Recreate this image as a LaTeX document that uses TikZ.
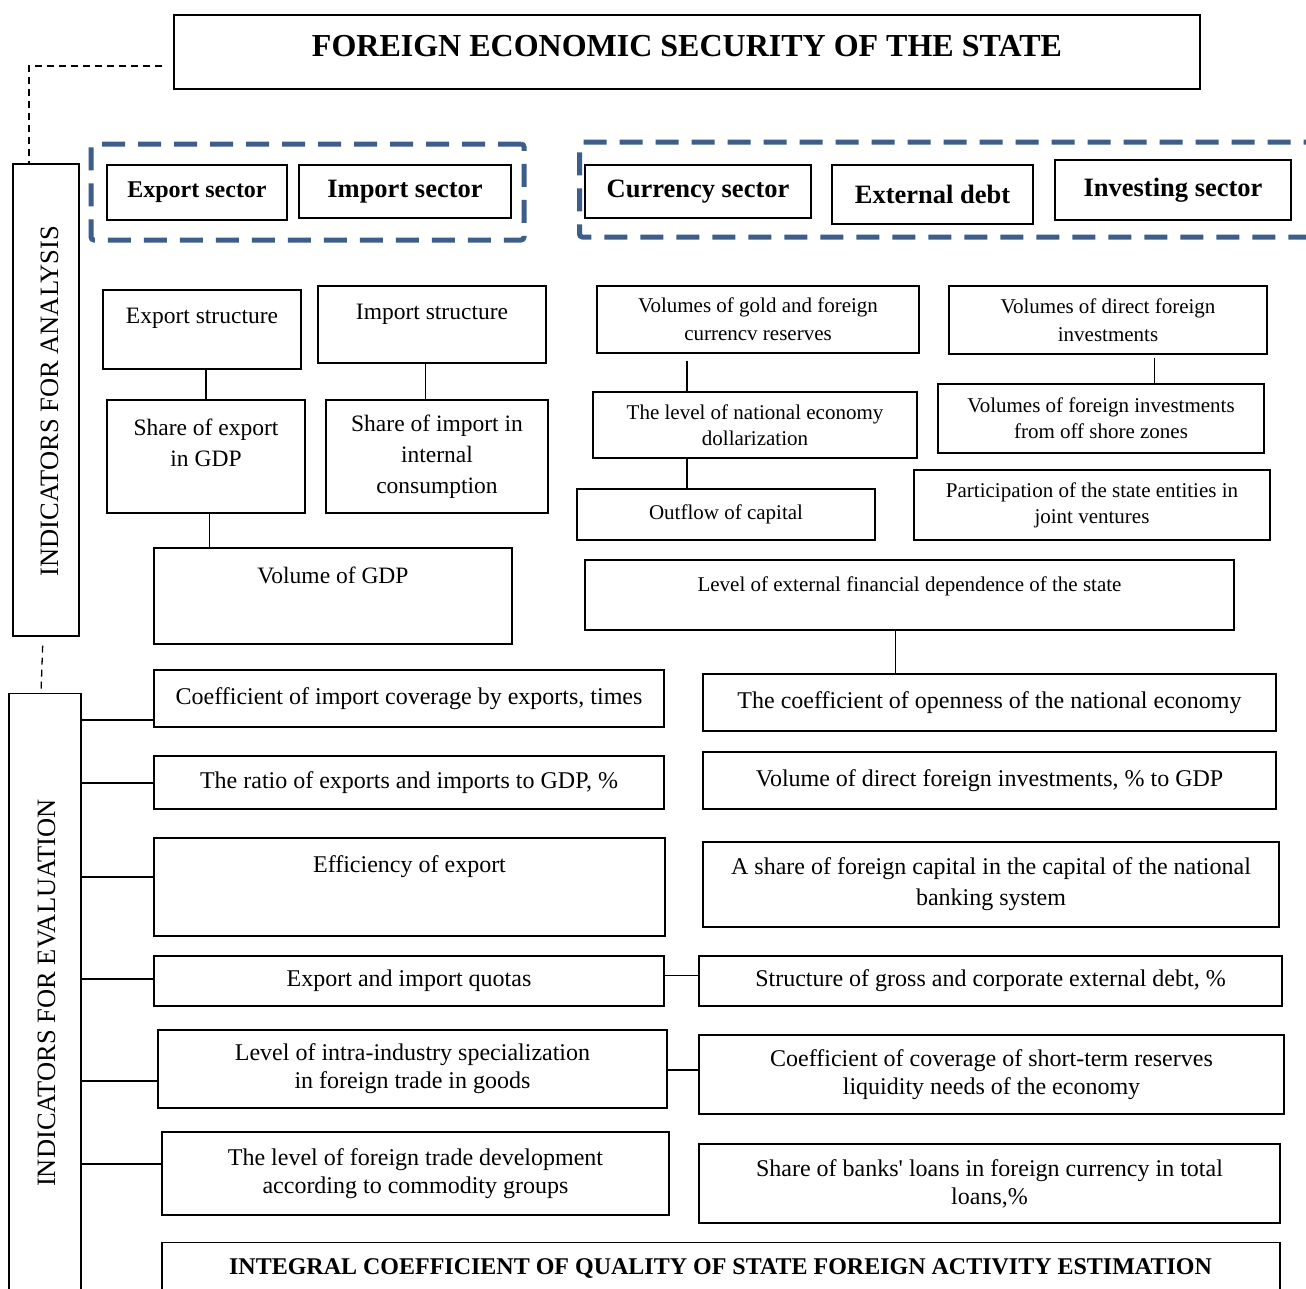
\documentclass[tikz,border=0pt]{standalone}
\usepackage{fontspec}
\setmainfont{Liberation Serif}
\definecolor{grpblue}{HTML}{3D5E8B}
\begin{document}
\begin{tikzpicture}[x=1pt,y=-1pt,
  box/.style={draw, line width=1.1pt, inner sep=0pt, align=center},
  t/.style={inner sep=0pt, align=center},
  blackdash/.style={line width=1.3pt, dash pattern=on 7pt off 5pt},
  grp/.style={draw=grpblue, line width=5pt, dash pattern=on 23pt off 13pt, rounded corners=3pt, inner sep=0pt},
  conn/.style={line width=1.5pt},
  sb/.style={font=\bfseries\fontsize{26.5}{32}\selectfont},
  sbs/.style={font=\bfseries\fontsize{24}{29}\selectfont},
  fa/.style={font=\fontsize{23.5}{31}\selectfont},
  fb/.style={font=\fontsize{21}{26}\selectfont},
  fc/.style={font=\fontsize{24}{28}\selectfont},
  fr/.style={font=\fontsize{26.5}{32}\selectfont}]
\clip (0,0) rectangle (1306,1288);
\fill[white] (0,0) rectangle (1306,1288);

% title
\node[box, minimum width=1026pt, minimum height=74pt] (title) at (687,52) {};
\node[t, font=\bfseries\fontsize{32}{38}\selectfont] (title-t) at (687,46) {FOREIGN ECONOMIC SECURITY OF THE STATE};

% rotated side boxes
\node[box, minimum width=66pt, minimum height=472pt] (ana) at (46,400) {};
\node[t, fr, rotate=90] (ana-t) at (49.5,401) {INDICATORS FOR ANALYSIS};
\node[box, minimum width=72pt, minimum height=620pt, anchor=north] (ev) at (45,693) {};
\node[t, fr, rotate=90] (ev-t) at (46.5,993) {INDICATORS FOR EVALUATION};

% sector groups
\node[grp, minimum width=433pt, minimum height=96pt] (grp1) at (307.5,192) {};
\node[grp, minimum width=750pt, minimum height=95pt, anchor=west] (grp2) at (577,189.5) {};

\node[box, sbs, minimum width=180pt, minimum height=55pt] (exps) at (197,192.5) {Export sector};
\node[box, sb, minimum width=212pt, minimum height=53pt] (imps) at (405,191.5) {Import sector};
\node[box, sb, minimum width=226pt, minimum height=53pt] (curs) at (698,191.5) {Currency sector};
\node[box, sb, minimum width=201pt, minimum height=59pt] (extd) at (932.5,194.5) {External debt};
\node[box, sb, minimum width=236pt, minimum height=60pt] (invs) at (1173,190) {Investing sector};

% analysis - left
\node[box, minimum width=198pt, minimum height=79pt] (es) at (202,329.5) {};
\node[t, fa] (es-t) at (202,318) {Export structure};
\node[box, minimum width=228pt, minimum height=77pt] (is) at (432,324.5) {};
\node[t, fa] (is-t) at (432,314) {Import structure};
\node[box, minimum width=198pt, minimum height=113pt] (se) at (206,456.5) {};
\node[t, fa] (se-t) at (206,443) {Share of export\\in GDP};
\node[box, fa, minimum width=222pt, minimum height=113pt] (si) at (437,456.5) {Share of import in\\internal\\consumption};
\node[box, minimum width=358pt, minimum height=96pt] (gdp) at (333,596) {};
\node[t, fa] (gdp-t) at (333,575) {Volume of GDP};

% analysis - right
\node[box, fb, font=\fontsize{21}{28}\selectfont, minimum width=322pt, minimum height=67pt] (gold) at (758,319.5) {Volumes of gold and foreign\\currencv reserves};
\node[box, fb, minimum width=324pt, minimum height=66pt] (dol) at (755,425) {The level of national economy\\dollarization};
\node[box, fb, minimum width=298pt, minimum height=51pt] (out) at (726,514.5) {Outflow of capital};
\node[box, fb, font=\fontsize{21}{28}\selectfont, minimum width=318pt, minimum height=68pt] (dfi) at (1108,320) {Volumes of direct foreign\\investments};
\node[box, fb, minimum width=326pt, minimum height=69pt] (off) at (1101,418.5) {Volumes of foreign investments\\from off shore zones};
\node[box, fb, minimum width=356pt, minimum height=70pt] (part) at (1092,505) {Participation of the state entities in\\joint ventures};
\node[box, minimum width=649pt, minimum height=70pt] (lefd) at (909.5,595) {};
\node[t, fb] (lefd-t) at (909.5,586) {Level of external financial dependence of the state};

% evaluation - left
\node[box, fc, minimum width=510pt, minimum height=57pt] (cic) at (409,698.5) {Coefficient of import coverage by exports, times};
\node[box, fc, minimum width=510pt, minimum height=53pt] (rat) at (409,782.5) {The ratio of exports and imports to GDP, \%};
\node[box, minimum width=511pt, minimum height=98pt] (eff) at (409.5,887) {};
\node[t, fc] (eff-t) at (409.5,867) {Efficiency of export};
\node[box, fc, minimum width=510pt, minimum height=50pt] (quo) at (409,981) {Export and import quotas};
\node[box, fc, minimum width=509pt, minimum height=78pt] (intra) at (412.5,1069) {Level of intra-industry specialization\\in foreign trade in goods};
\node[box, fc, minimum width=507pt, minimum height=83pt] (ftd) at (415.5,1173.5) {The level of foreign trade development\\according to commodity groups};
\node[box, minimum width=1118pt, minimum height=60pt, anchor=north] (integ) at (721,1242) {};
\node[t, font=\bfseries\fontsize{24}{29}\selectfont] (integ-t) at (720.5,1268) {INTEGRAL COEFFICIENT OF QUALITY OF STATE FOREIGN ACTIVITY ESTIMATION};

% evaluation - right
\node[box, fc, minimum width=573pt, minimum height=57pt] (open) at (989.5,702.5) {The coefficient of openness of the national economy};
\node[box, fc, minimum width=573pt, minimum height=57pt] (vdfi) at (989.5,780.5) {Volume of direct foreign investments, \% to GDP};
\node[box, font=\fontsize{24}{31}\selectfont, minimum width=576pt, minimum height=85pt] (sfc) at (991,884.5) {A share of foreign capital in the capital of the national\\banking system};
\node[box, fc, minimum width=583pt, minimum height=50pt] (sgd) at (990.5,981) {Structure of gross and corporate external debt, \%};
\node[box, fc, minimum width=585pt, minimum height=79pt] (cov) at (991.5,1074.5) {Coefficient of coverage of short-term reserves\\liquidity needs of the economy};
\node[box, fc, minimum width=581pt, minimum height=79pt] (bank) at (989.5,1183.5) {Share of banks\textquotesingle{} loans in foreign currency in total\\loans,\%};

% dashed links of the side boxes
\draw[blackdash] ([shift={(-11pt,-14pt)}]title.west) -| ([xshift=-17pt]ana.north);
\draw[blackdash, shorten <=9pt] ([xshift=-3pt]ana.south) -- ([xshift=-4pt]ev.north);

% analysis connectors
\draw[conn] (es.south -| 206,0) -- (se.north -| 206,0);
\draw[conn] (is.south -| 425.5,0) -- (si.north -| 425.5,0);
\draw[conn] (se.south -| 209.5,0) -- (gdp.north -| 209.5,0);
\draw[conn, shorten <=7pt] (gold.south -| 687,0) -- (dol.north -| 687,0);
\draw[conn] (dol.south -| 687,0) -- (out.north -| 687,0);
\draw[conn, shorten <=3pt] (dfi.south -| 1154.5,0) -- (off.north -| 1154.5,0);
\draw[conn] (lefd.south -| 895.5,0) -- (open.north -| 895.5,0);

% evaluation connectors
\draw[conn] (ev.east |- 0,720) -- (cic.west |- 0,720);
\draw[conn] (ev.east |- 0,783) -- (rat.west |- 0,783);
\draw[conn] (ev.east |- 0,877) -- (eff.west |- 0,877);
\draw[conn] (ev.east |- 0,979) -- (quo.west |- 0,979);
\draw[conn] (ev.east |- 0,1081) -- (intra.west |- 0,1081);
\draw[conn] (ev.east |- 0,1164) -- (ftd.west |- 0,1164);
\draw[conn] (quo.east |- 0,975.5) -- (sgd.west |- 0,975.5);
\draw[conn] (intra.east |- 0,1070) -- (cov.west |- 0,1070);
\end{tikzpicture}
\end{document}
